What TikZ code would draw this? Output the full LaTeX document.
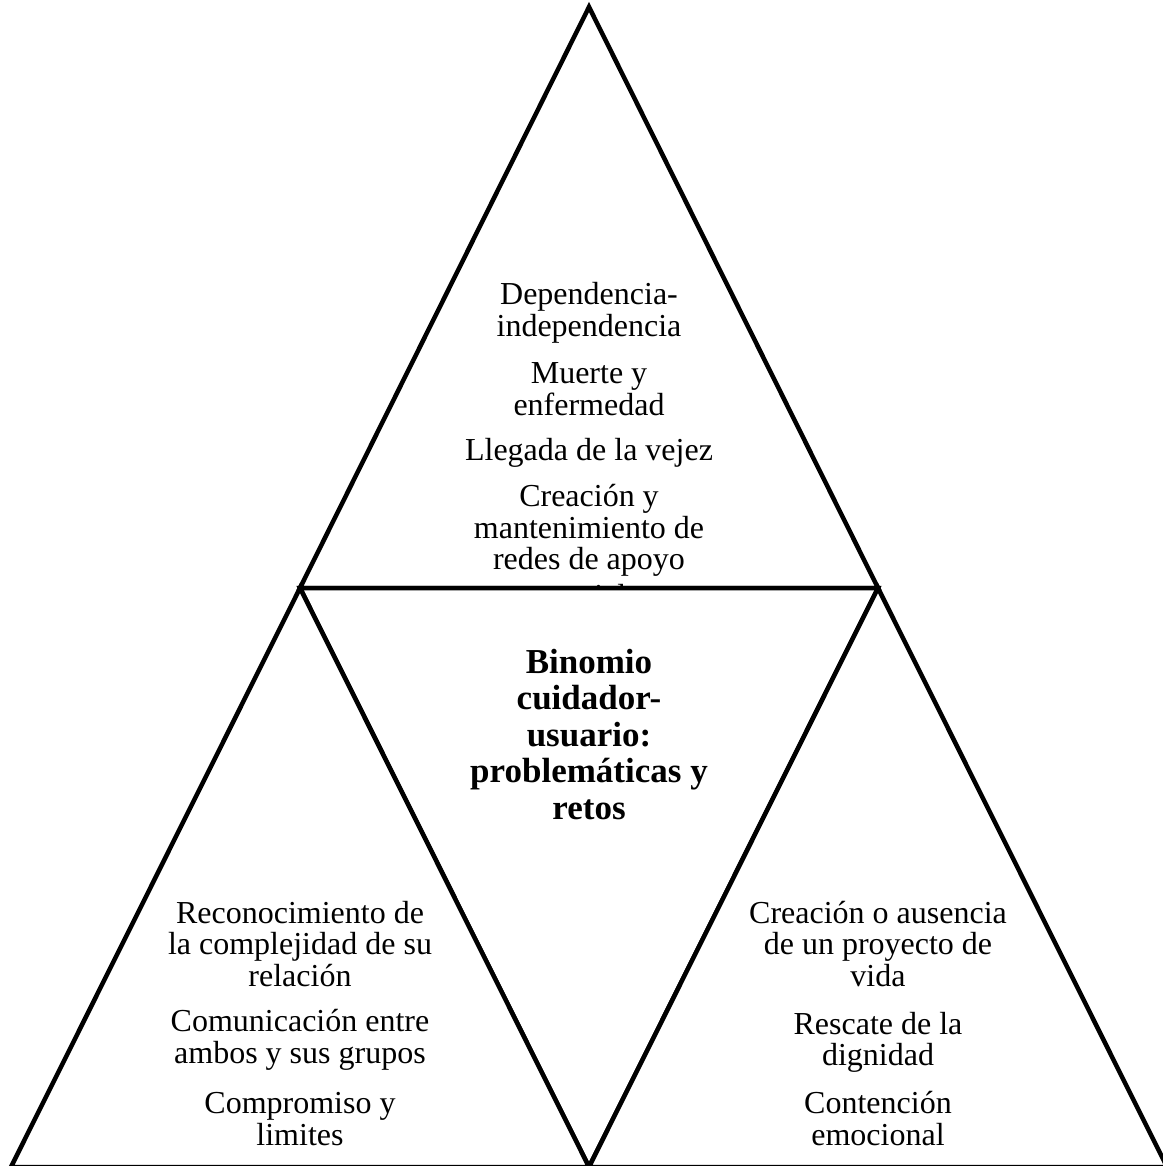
\documentclass[tikz,border=0pt]{standalone}
\usepackage{fontspec}
\setmainfont{Liberation Serif}
\begin{document}
\begin{tikzpicture}[x=1pt,y=-1pt,
  tri/.style={draw=black,line width=4.5pt,fill=white,line join=miter},
  body/.style={align=center,anchor=base,inner sep=0pt,
    font=\fontsize{32}{31.5}\selectfont},
  title/.style={align=center,anchor=base,inner sep=0pt,
    font=\fontsize{35}{36.5}\selectfont\bfseries}]
\useasboundingbox (0,0) rectangle (1162,1166);
% corner points of the four triangles
\coordinate (apex) at (589,7);
\coordinate (ml) at (300,588);
\coordinate (mr) at (878,588);
\coordinate (bm) at (589,1167);
\coordinate (bl) at (11,1167);
\coordinate (br) at (1167,1167);
% upper triangle and its topics (node base = last line's baseline)
\draw[tri] (apex) -- (ml) -- (mr) -- cycle;
\node[body] (t1) at (589,336) {Dependencia-\\independencia};
\node[body] (t2) at (589,415) {Muerte y\\enfermedad};
\node[body] (t3) at (589,460) {Llegada de la vejez};
\node[body] (t4) at (589,606) {Creación y\\mantenimiento de\\redes de apoyo\\[5pt]social};
% central inverted triangle with the title (covers the overflowing line)
\draw[tri] (ml) -- (mr) -- (bm) -- cycle;
\node[title] (c) at (589,819) {Binomio\\cuidador-\\usuario:\\problemáticas y\\retos};
% lower left triangle
\draw[tri] (ml) -- (bl) -- (bm) -- cycle;
\node[body] (l1) at (300,986) {Reconocimiento de\\la complejidad de su\\relación};
\node[body] (l2) at (300,1063) {Comunicación entre\\ambos y sus grupos};
\node[body] (l3) at (300,1145) {Compromiso y\\limites};
% lower right triangle
\draw[tri] (mr) -- (bm) -- (br) -- cycle;
\node[body] (r1) at (878,986) {Creación o ausencia\\de un proyecto de\\vida};
\node[body] (r2) at (878,1065.5) {Rescate de la\\dignidad};
\node[body] (r3) at (878,1145) {Contención\\emocional};
\end{tikzpicture}
\end{document}
